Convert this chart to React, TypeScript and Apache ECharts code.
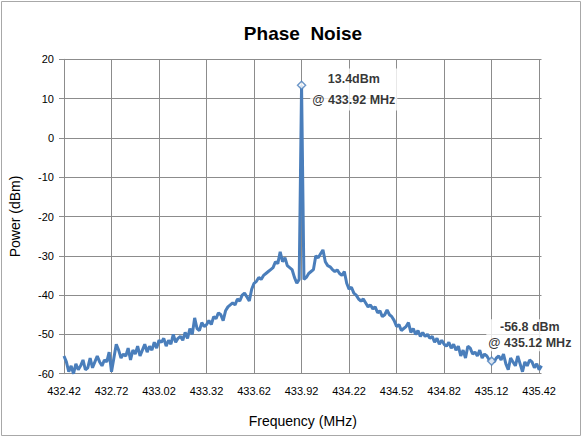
import React, { useEffect, useRef } from "react";
import * as echarts from "echarts";

const START_FREQ = 432.42;
const STEP = 0.015;
const POWER_DBM: number[] = [
  -55.5, -57, -59.5, -58, -60, -57.5, -59, -58, -56.5, -59, -58.5,
  -56, -58.5, -57, -55.5, -57, -58, -56.5, -57, -54.5, -59.5,
  -56, -52.5, -54, -56, -55, -55.5, -53.5, -56.5, -54, -55,
  -53, -55.5, -54, -52.5, -54.5, -53, -54, -52, -53.5, -51.5,
  -52, -51, -53, -51.5, -52.5, -50, -52, -51, -50.5, -51.5,
  -49.5, -51, -48.5, -50, -45.8, -48.5, -49, -47, -48, -47.5,
  -46.5, -47.5, -45.5, -46, -44.5, -45, -46.5, -44, -43, -42.5,
  -42, -42.5, -41, -41.5, -40, -39.5, -40.5, -41.5, -38.5, -37,
  -36.5, -35.5, -36, -35, -34.5, -34, -33.5, -33, -31.5, -32,
  -29, -31.5, -30.5, -32.5, -33, -33.5, -35.5, -37, -36,
  13.4,
  -36, -35.5, -34.5, -34, -33.5, -30, -30.5, -29.5, -28.5, -31.5,
  -32.5, -32.8, -33.5, -34, -33.6, -34.5, -35, -34, -37, -38.5,
  -38, -39.5, -40, -41, -41.5, -41, -42, -43, -42.5, -43.5,
  -43, -44.5, -44, -45.5, -45, -43.8, -45, -45.5, -46.5, -48,
  -47.5, -49, -48.5, -48, -47, -49.5, -48.5, -50, -49, -50.5,
  -49.5, -50.5, -50, -51, -50.5, -52, -51, -52.5, -51.5, -52.5,
  -53, -52, -53.5, -52.5, -54, -53, -55.5, -54, -56, -53,
  -53.5, -55, -54.5, -55.5, -54, -56, -55, -55.5, -56.5, -56.8,
  -57, -56, -55.5, -56.5, -55, -57.5, -59, -56, -57, -58,
  -55.5, -57.5, -59.5, -57, -58, -56.5, -57, -58.5, -57.5, -59, -58,
];
const FREQ_LABELS: string[] = POWER_DBM.map((_, i) => (START_FREQ + STEP * i).toFixed(2));
const MARKERS = [
  { freq: "433.92", value: 13.4, text: "13.4dBm\n@ 433.92 MHz" },
  { freq: "435.12", value: -56.8, text: "-56.8 dBm\n@ 435.12 MHz" },
];

export default function App() {
  const ref = useRef<HTMLDivElement>(null);
  useEffect(() => {
    if (!ref.current) return;
    const chart = echarts.init(ref.current, null, { renderer: "svg" });
    const gridColor = "#8c8c8c";
    chart.setOption({
      animation: false,
      backgroundColor: "#ffffff",
      title: {
        text: "Phase  Noise",
        left: 298,
        top: 19,
        textAlign: "center",
        textStyle: { fontFamily: "Liberation Sans", fontWeight: "bold", fontSize: 19, color: "#000" },
      },
      graphic: [
        {
          type: "rect",
          shape: { x: 1.5, y: 1.5, width: 579, height: 434 },
          style: { fill: "none", stroke: "#a8a8a8", lineWidth: 1 },
          silent: true,
        },
      ],
      grid: { left: 62, right: 40.5, top: 59.3, bottom: 63.3, containLabel: false },
      xAxis: {
        type: "category",
        data: FREQ_LABELS,
        boundaryGap: false,
        name: "Frequency (MHz)",
        nameLocation: "middle",
        nameGap: 40,
        nameTextStyle: { fontFamily: "Liberation Sans", fontSize: 14, color: "#000" },
        axisLine: { lineStyle: { color: gridColor, width: 1 } },
        axisTick: { show: true, interval: 19, length: 5, lineStyle: { color: gridColor } },
        axisLabel: { interval: 19, fontFamily: "Liberation Sans", fontSize: 11, color: "#000", margin: 12 },
        splitLine: { show: true, interval: 19, lineStyle: { color: gridColor, width: 1 } },
      },
      yAxis: {
        type: "value",
        min: -60,
        max: 20,
        interval: 10,
        name: "Power (dBm)",
        nameLocation: "middle",
        nameGap: 42,
        nameRotate: 90,
        nameTextStyle: { fontFamily: "Liberation Sans", fontSize: 14, color: "#000" },
        axisLine: { show: true, lineStyle: { color: gridColor, width: 1 } },
        axisTick: { show: true, length: 5, lineStyle: { color: gridColor } },
        axisLabel: { fontFamily: "Liberation Sans", fontSize: 11, color: "#000", margin: 10 },
        splitLine: { show: true, lineStyle: { color: gridColor, width: 1 } },
      },
      series: [
        {
          type: "line",
          data: POWER_DBM,
          showSymbol: false,
          symbol: "none",
          lineStyle: { color: "#4a7ebb", width: 3 },
          z: 3,
        },
        {
          type: "scatter",
          symbol: "diamond",
          symbolSize: 8,
          itemStyle: { color: "#ffffff", borderColor: "#4a7ebb", borderWidth: 1.5 },
          z: 4,
          data: MARKERS.map((m, i) => ({
            value: [m.freq, m.value],
            label: {
              show: true,
              formatter: m.text,
              position: i === 0 ? [57, 9] : [43, -21],
              align: "center",
              verticalAlign: "middle",
              fontFamily: "Liberation Sans",
              fontWeight: "bold",
              fontSize: 12.5,
              lineHeight: i === 0 ? 21 : 16,
              color: "#000",
              backgroundColor: "#ffffff",
              padding: [0, 2],
            },
          })),
        },
      ],
    });
    return () => chart.dispose();
  }, []);
  return (
    <div
      ref={ref}
      style={{ position: "fixed", left: 0, top: 0, width: 582, height: 437 }}
    />
  );
}
